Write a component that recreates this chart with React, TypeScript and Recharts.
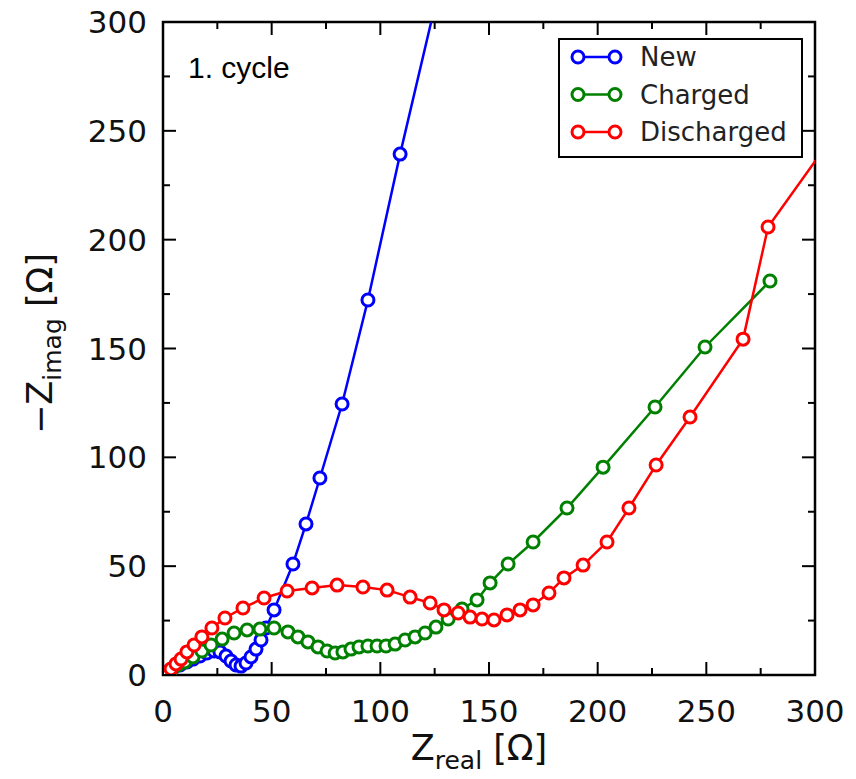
import { LineChart, Line, XAxis, YAxis, Legend, Customized, ReferenceArea } from 'recharts'

// Nyquist plot of the cell impedance, first cycle
const allTicks = [0, 25, 50, 75, 100, 125, 150, 175, 200, 225, 250, 275, 300]

// [Z_real, -Z_imag] in ohm
const newCell: [number, number][] = [
  [1.8, 1.4], [4.6, 3.2], [7.8, 4.6], [11.0, 6.0], [13.8, 7.3], [17.0, 8.7],
  [20.2, 10.1], [23.5, 11.0], [26.2, 10.6], [29.0, 8.7], [31.3, 6.4], [33.6, 4.6],
  [35.9, 4.1], [38.2, 5.5], [40.5, 8.3], [42.8, 11.9], [45.1, 16.1], [47.4, 21.6],
  [51.1, 29.9], [59.8, 51.0], [65.8, 69.4], [72.2, 90.5], [82.4, 124.5],
  [94.3, 172.3], [109.1, 239.3], [134.4, 346.8],
]

const chargedCell: [number, number][] = [
  [1.4, 0.9], [4.1, 2.8], [6.9, 4.6], [10.1, 6.0], [13.8, 8.3], [17.9, 11.0],
  [22.1, 13.8], [27.2, 16.5], [32.7, 19.3], [38.7, 20.7], [44.6, 21.1], [51.1, 21.6],
  [57.5, 19.8], [62.1, 17.5], [66.7, 15.2], [71.3, 12.9], [75.5, 11.0], [79.2, 10.1],
  [82.8, 10.6], [86.5, 11.9], [90.2, 12.9], [94.3, 13.3], [98.5, 13.3], [102.6, 13.3],
  [106.8, 14.2], [111.4, 16.1], [116.0, 17.5], [120.6, 19.3], [125.6, 22.0],
  [131.2, 25.7], [137.6, 30.3], [144.5, 34.5], [150.5, 42.3], [158.8, 51.0],
  [170.3, 61.1], [185.9, 76.7], [202.5, 95.5], [226.4, 123.1], [249.4, 150.7],
  [279.3, 181.0],
]

const dischargedCell: [number, number][] = [
  [0.9, 0.9], [3.7, 2.8], [6.0, 5.1], [8.3, 7.3], [11.0, 10.6], [14.3, 13.8],
  [17.9, 17.5], [22.5, 21.6], [28.5, 26.2], [36.8, 30.8], [46.5, 35.4], [57.1, 38.6],
  [68.6, 40.0], [80.1, 41.3], [92.0, 40.4], [103.1, 39.0], [113.7, 35.8], [122.9, 33.1],
  [129.3, 29.9], [135.8, 28.5], [141.3, 26.6], [146.8, 25.7], [152.3, 25.3],
  [158.3, 27.6], [164.3, 29.9], [170.3, 32.2], [177.6, 37.7], [184.5, 44.6],
  [193.3, 50.5], [204.3, 61.1], [214.4, 76.7], [226.9, 96.5], [242.5, 118.5],
  [266.9, 154.3], [278.4, 205.8], [310.0, 250.0],
]

const series = [
  { name: 'New', color: '#0000ff', points: newCell },
  { name: 'Charged', color: '#008000', points: chargedCell },
  { name: 'Discharged', color: '#ff0000', points: dischargedCell },
]
const seriesOrder = series.map((s) => s.name)

const FONT = '"DejaVu Sans", sans-serif'
const TICK_FONT = 31
const LABEL_FONT = 35
const SUB_FONT = 25

const WIDTH = 840
const HEIGHT = 763
const MARGIN = { top: 14, right: 33, bottom: 0, left: 0 }
const PLOT_TOP = MARGIN.top
const PLOT_RIGHT = WIDTH - MARGIN.right

// inward ticks; the bottom/left renderers also mirror them onto top/right
function makeTick(side: 'bottom' | 'left') {
  return (props: any) => {
    const { x, y, payload } = props
    const v = payload.value as number
    const major = v % 50 === 0
    const len = major ? 13 : 7
    const stroke = { stroke: '#000', strokeWidth: 2 }
    if (side === 'bottom') {
      return (
        <g>
          <line x1={x} y1={y} x2={x} y2={y - len} {...stroke} />
          <line x1={x} y1={PLOT_TOP} x2={x} y2={PLOT_TOP + len} {...stroke} />
          {major && (
            <text x={x} y={y + 47} textAnchor="middle" fontSize={TICK_FONT} fontFamily={FONT} fill="#111">
              {v}
            </text>
          )}
        </g>
      )
    }
    return (
      <g>
        <line x1={x} y1={y} x2={x + len} y2={y} {...stroke} />
        <line x1={PLOT_RIGHT} y1={y} x2={PLOT_RIGHT - len} y2={y} {...stroke} />
        {major && (
          <text x={x - 16} y={y} dy="0.36em" textAnchor="end" fontSize={TICK_FONT} fontFamily={FONT} fill="#111">
            {v}
          </text>
        )}
      </g>
    )
  }
}

function XLabel(props: any) {
  const { viewBox } = props
  const cx = viewBox.x + viewBox.width / 2 - 10
  return (
    <text x={cx} y={viewBox.y + 85} textAnchor="middle" fontSize={LABEL_FONT} fontFamily={FONT} fill="#111">
      Z
      <tspan fontSize={SUB_FONT} dy={9}>real</tspan>
      <tspan dy={-9}> [Ω]</tspan>
    </text>
  )
}

function YLabel(props: any) {
  const { viewBox } = props
  const cx = 44
  const cy = viewBox.y + viewBox.height / 2 - 5
  return (
    <text
      x={cx}
      y={cy}
      transform={`rotate(-90, ${cx}, ${cy})`}
      textAnchor="middle"
      fontSize={LABEL_FONT}
      fontFamily={FONT}
      fill="#111"
    >
      −Z
      <tspan fontSize={SUB_FONT} dy={9}>imag</tspan>
      <tspan dy={-9}> [Ω]</tspan>
    </text>
  )
}

function LegendBox({ payload }: any) {
  const rows = [...((payload || []) as any[])].sort(
    (a, b) => seriesOrder.indexOf(a.value) - seriesOrder.indexOf(b.value),
  )
  return (
    <div
      style={{
        width: 245,
        height: 120,
        border: '2.5px solid #000',
        boxSizing: 'border-box',
        background: '#fff',
      }}
    >
      <svg width={240} height={115}>
        {rows.map((p, i) => {
          const cy = 17 + i * 37.5
          return (
            <g key={p.value}>
              <line x1={18} y1={cy} x2={55} y2={cy} stroke={p.color} strokeWidth={2.5} />
              <circle cx={18} cy={cy} r={6} fill="#fff" stroke={p.color} strokeWidth={3} />
              <circle cx={55} cy={cy} r={6} fill="#fff" stroke={p.color} strokeWidth={3} />
              <text x={80} y={cy} dy="0.36em" fontSize={26} fontFamily={FONT} fill="#222">
                {p.value}
              </text>
            </g>
          )
        })}
      </svg>
    </div>
  )
}

function CycleNote() {
  return (
    <text x={180} y={70} fontSize={30} fontFamily='"Liberation Sans", Arial, sans-serif' fill="#000">
      1. cycle
    </text>
  )
}

export default function App() {
  return (
    <LineChart width={WIDTH} height={HEIGHT} margin={MARGIN}>
      <XAxis
        dataKey="x"
        type="number"
        domain={[0, 300]}
        ticks={allTicks}
        interval={0}
        allowDataOverflow
        height={96}
        tickSize={0}
        tickMargin={0}
        tickLine={false}
        tick={makeTick('bottom')}
        axisLine={false}
        label={<XLabel />}
      />
      <YAxis
        dataKey="y"
        type="number"
        domain={[0, 300]}
        ticks={allTicks}
        interval={0}
        allowDataOverflow
        width={155}
        tickSize={0}
        tickMargin={0}
        tickLine={false}
        tick={makeTick('left')}
        axisLine={false}
        label={<YLabel />}
      />
      {series.map((s) => (
        <Line
          key={s.name}
          name={s.name}
          data={s.points.map(([x, y]) => ({ x, y }))}
          dataKey="y"
          type="linear"
          stroke={s.color}
          strokeWidth={2.5}
          dot={{ r: 6, fill: '#fff', stroke: s.color, strokeWidth: 3 }}
          activeDot={false}
          isAnimationActive={false}
        />
      ))}
      {/* plot frame */}
      <ReferenceArea x1={0} x2={300} y1={0} y2={300} fill="none" stroke="#000" strokeWidth={2.5} />
      <Legend
        content={<LegendBox />}
        layout="horizontal"
        verticalAlign="middle"
        align="center"
        wrapperStyle={{ top: 30, left: 550, width: 245, height: 120 }}
      />
      <Customized component={<CycleNote />} />
    </LineChart>
  )
}
